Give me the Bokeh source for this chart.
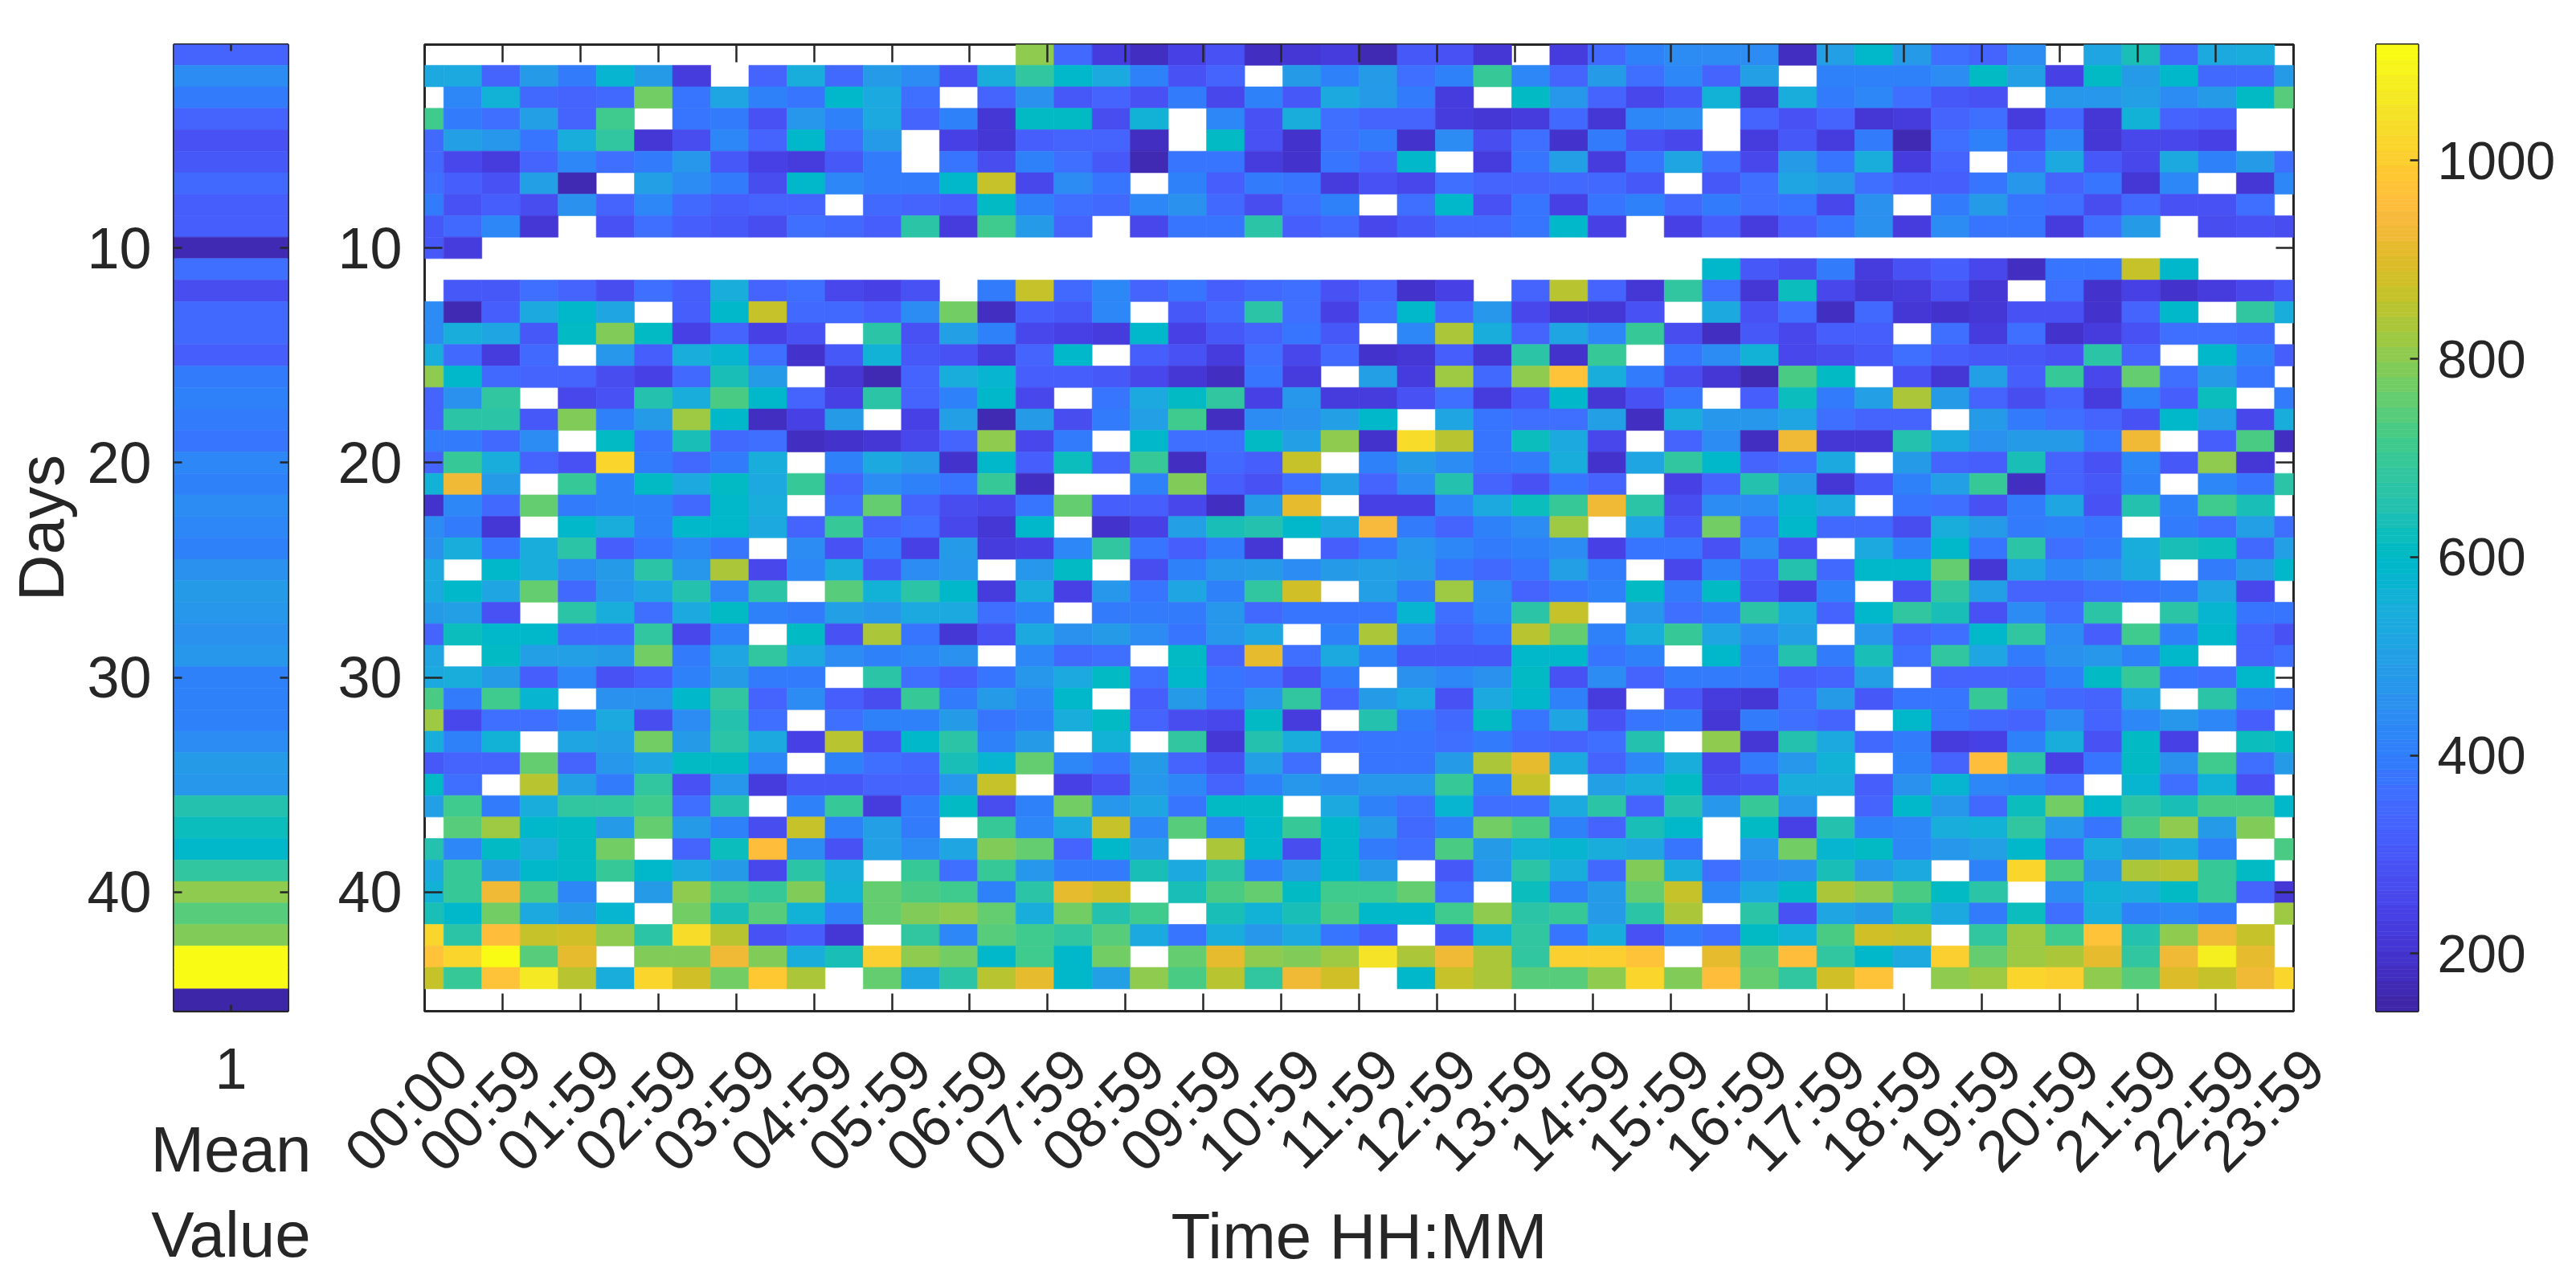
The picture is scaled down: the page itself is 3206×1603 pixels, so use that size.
from math import pi

import numpy as np
from bokeh.embed import file_html
from bokeh.layouts import column, row
from bokeh.models import (ColumnDataSource, CustomJSTickFormatter, FixedTicker,
                          LinearAxis, LinearColorMapper, Range1d)
from bokeh.plotting import figure
from bokeh.resources import INLINE

N = float("nan")

time_labels = ["00:00", "00:59", "01:59", "02:59", "03:59", "04:59", "05:59", "06:59", "07:59",
               "08:59", "09:59", "10:59", "11:59", "12:59", "13:59", "14:59", "15:59", "16:59",
               "17:59", "18:59", "19:59", "20:59", "21:59", "22:59", "23:59"]
day_ticks = [10, 20, 30, 40]
bar_ticks = [200, 400, 600, 800, 1000]
value_min = 142
value_max = 1117

mean_value = [330, 442, 397, 335, 285, 302, 350, 318, 312, 160, 358, 273, 350, 350, 318, 397, 406, 393,
              385, 422, 402, 436, 422, 410, 459, 478, 465, 459, 470, 402, 416, 406, 436, 490, 470, 650,
              622, 595, 688, 808, 742, 785, 1117, 1105, 150]

# one row per day, 50 samples over the day, N = no reading
day_values = [
    [N]*16 + [808, 346, 230, 175, 235, 292, 185, 205, 225, 160, 297, 280, 215, N, 225, 353, 410, 436, 436, 436, 175, 505, 585, 490, 358, 330, 436, N, 515, 635, 350, 532, 546, N],
    [525, 532, 330, 482, 389, 582, 482, 225, N, 338, 546, 350, 482, 442, 292, 546, 684, 585, 525, 416, 292, 338, N, 482, 416, 490, 356, 416, 698, 422, 335, 490, 358, 425, 335, 505, N, 416, 416, 416, 436, 605, 505, 240, 612, 490, 588, 346, 346, 490],
    [N, 428, 555, 353, 335, 342, 768, 374, 520, 406, 385, 598, 537, 356, N, 338, 459, 297, 325, 285, 397, 250, 416, 297, 537, 490, 397, 225, N, 605, 470, 335, 258, 297, 560, 210, 540, 397, 428, 358, 297, 285, N, 470, 465, 505, 442, 478, 605, 748],
    [714, 389, 362, 505, 330, 708, N, 382, 397, 292, 474, 406, 532, 335, 416, 210, 612, 605, 273, 560, N, 422, 292, 546, 356, 338, 338, 225, 205, 225, 353, 215, 422, 442, N, 335, 280, 325, 210, 225, 338, 362, 220, 346, 205, 555, 335, 318, N, N],
    [346, 505, 474, 378, 546, 680, 210, 273, 422, 330, 592, 362, 478, N, 240, 205, 318, 330, 330, 185, N, 605, 292, 190, 365, 397, 190, 436, 273, 362, 190, 389, 280, 250, N, 225, 297, 220, 397, 165, 362, 416, 292, 422, 205, 250, 250, 235, N, N],
    [346, 250, 220, 330, 428, 362, 397, 465, 297, 240, 225, 302, 393, N, 385, 273, 416, 368, 297, 165, 382, 382, 225, 195, 382, 325, 588, N, 225, 374, 505, 225, 374, 520, 358, 250, 490, 378, 540, 230, 330, N, 368, 537, 297, 250, 532, 416, 482, 365],
    [362, 318, 280, 505, 170, N, 505, 436, 389, 273, 595, 422, 397, 389, 595, 872, 250, 445, 382, N, 410, 312, 389, 385, 225, 292, 258, 358, 335, 330, 346, 346, 297, N, 297, 362, 510, 482, 356, 312, 318, 374, 470, 338, 382, 210, 422, N, 210, 428],
    [393, 280, 318, 273, 459, 325, 428, 346, 312, 335, 330, N, 346, 338, 312, 605, 406, 365, 350, 428, 459, 342, 273, 362, 410, N, 362, 595, 292, 378, 240, 374, 406, 350, 389, 362, 378, 258, 459, N, 397, 482, 374, 365, 273, 346, 280, 280, 356, N],
    [297, 353, 422, 215, N, 280, 356, 312, 302, 273, 365, 342, 318, 670, 230, 718, 478, 325, N, 250, 382, 378, 670, 318, 346, 250, 302, 346, 350, 382, 585, 235, N, 245, 312, 225, 318, 374, 459, 230, 436, 378, 385, 230, 368, 482, N, 273, 280, 273],
    [297, 230] + [N]*48,
    [N]*34 + [585, 297, 273, 389, 230, 292, 312, 250, 185, 382, 374, 872, 598, N, N, N],
    [N, 297, 297, 362, 335, 273, 368, 312, 546, 338, 358, 255, 235, 292, N, 389, 872, 346, 428, 338, 378, 312, 353, 358, 292, 335, 190, 235, N, 330, 855, 330, 205, 688, 356, 215, 622, 250, 205, 225, 285, 205, N, 368, 195, 240, 190, 225, 258, 302],
    [436, 170, 312, 537, 598, 515, N, 312, 598, 872, 350, 346, 312, 436, 775, 175, 318, 308, 422, N, 297, 342, 660, 356, 235, 365, 595, 350, 470, 250, 215, 215, 292, N, 532, 280, 356, 185, 353, 210, 195, 205, 285, 285, 190, 330, 595, N, 688, 543],
    [436, 550, 520, 302, 605, 788, 612, 235, 330, 235, 292, N, 660, 292, 505, 410, 250, 240, 230, 592, 240, 297, 330, 385, 297, N, 422, 837, 546, 335, 510, 422, 698, 273, 175, 302, 250, 312, 312, N, 368, 230, 356, 195, 230, 292, 356, 356, 342, N],
    [546, 350, 230, 342, N, 465, 312, 550, 578, 358, 200, 297, 565, 302, 292, 225, 330, 590, N, 312, 285, 225, 368, 250, 350, 200, 205, 318, 210, 675, 200, 698, N, 376, 436, 565, 250, 273, 302, 358, 312, 297, 297, 292, 660, 325, N, 595, 410, 312],
    [802, 592, 350, 338, 335, 273, 240, 342, 630, 478, N, 215, 165, 338, 546, 578, 318, 312, 302, 258, 210, 185, 374, 225, N, 505, 230, 826, 342, 808, 970, 546, 393, 275, 215, 165, 722, 605, N, 285, 205, 505, 312, 692, 250, 752, 356, 478, 378, N],
    [330, 459, 684, N, 250, 292, 650, 550, 722, 588, 335, 240, 665, 338, 416, 590, 250, N, 374, 532, 605, 680, 235, 465, 225, 225, 292, 358, 230, 297, 595, 215, 280, 376, N, 312, 618, 393, 505, 832, 482, 335, 273, 335, 220, 402, 312, 622, N, 397],
    [338, 660, 670, 297, 795, 406, 482, 823, 590, 180, 240, 490, N, 235, 505, 165, 490, 270, 397, 505, 714, 180, 436, 459, 505, 598, N, 520, 374, 365, 362, 505, 175, 545, 465, 465, 510, 356, 330, 338, N, 478, 393, 368, 335, 292, 595, 498, 250, 543],
    [393, 393, 342, 442, N, 605, 374, 640, 342, 368, 185, 190, 205, 250, 338, 812, 258, 393, N, 595, 368, 368, 612, 505, 798, 190, 1033, 850, 378, 618, 532, 250, N, 340, 436, 185, 926, 205, 205, 650, 532, 459, 482, 482, 374, 926, N, 312, 735, 185],
    [338, 698, 546, 335, 292, 1015, 397, 350, 389, 543, N, 410, 537, 478, 190, 598, 312, 618, 325, 698, 185, 342, 318, 872, N, 402, 478, 436, 385, 389, 543, 190, 510, 680, 590, 330, 368, 528, N, 482, 335, 318, 630, 338, 292, 422, 302, 798, 205, N],
    [565, 932, 482, N, 703, 410, 605, 532, 605, 525, 698, 338, 436, 402, 378, 692, 180, N, N, 416, 795, 312, 280, 365, 505, 338, 442, 650, 335, 292, 385, 335, N, 235, 335, 650, 490, 210, 297, 406, 505, 703, 180, 325, 297, 406, N, 428, 382, 665],
    [195, 428, 346, 762, 389, 406, 410, 350, 590, 546, N, 358, 762, 335, 273, 250, 382, 762, 312, 312, 258, 185, 482, 904, N, 240, 240, 422, 532, 622, 703, 920, 665, 270, 436, 436, 582, 537, N, 378, 356, 292, 397, 515, 280, 650, 402, 708, 630, N],
    [436, 393, 215, N, 595, 543, 406, 592, 595, 537, 335, 692, 338, 356, 250, 215, 595, N, 200, 240, 498, 640, 650, 590, 537, 945, 393, 330, 410, 436, 815, N, 520, 300, 780, 358, 585, 350, 350, 273, 543, 490, 397, 406, 374, N, 393, 362, 505, 358],
    [459, 543, 378, 546, 665, 312, 371, 428, 382, N, 442, 292, 389, 235, 478, 230, 240, 425, 684, 378, 312, 393, 210, N, 312, 371, 465, 422, 397, 406, 436, 235, 374, 385, 285, 436, 292, N, 537, 406, 588, 385, 665, 368, 393, 546, 640, 618, 342, 498],
    [537, N, 595, 546, 436, 490, 665, 474, 828, 250, 422, 543, 302, 436, 465, N, 465, 610, N, 273, 410, 470, 490, 436, 490, 498, 478, 385, 350, 378, 505, 397, N, 255, 402, 312, 655, 342, 588, 595, 752, 215, 515, 422, 459, 537, N, 397, 482, 588],
    [537, 595, 515, 752, 353, 470, 515, 650, 428, 670, N, 748, 560, 675, 595, 225, 540, 245, 465, 385, 520, 416, 684, 888, N, 498, 397, 820, 445, 338, 382, 410, 612, 387, 608, 297, 240, 410, N, 285, 688, 505, 338, 335, 356, 374, 393, 510, 250, N],
    [490, 505, 285, N, 665, 543, 368, 537, 605, 410, 397, 498, 465, 537, 525, 358, 416, N, 397, 389, 397, 470, 342, 378, 385, 378, 578, 358, 422, 660, 872, N, 474, 356, 393, 675, 532, 330, 592, 680, 635, 280, 436, 356, 665, N, 660, 582, 385, 382],
    [335, 622, 595, 598, 346, 350, 684, 258, 410, N, 612, 292, 828, 378, 210, 280, 528, 455, 490, 442, 374, 470, 510, N, 416, 842, 422, 338, 374, 846, 762, 402, 546, 703, 520, 436, 498, N, 470, 335, 358, 590, 688, 442, 312, 708, 410, 595, 338, 285],
    [515, N, 608, 498, 505, 482, 768, 393, 515, 688, 525, 436, 406, 428, 459, N, 422, 345, 368, N, 605, 338, 904, 368, 528, 410, 302, 302, 302, 590, 598, 374, 406, N, 588, 397, 650, 389, 630, 368, 680, 515, 397, 459, 470, 402, 592, N, 338, 365],
    [532, 550, 490, 312, 428, 292, 312, 410, 490, 397, 389, N, 665, 358, 312, 378, 465, 535, 605, 356, 588, 382, 368, 292, 389, N, 459, 428, 459, 612, 292, 442, 335, 390, 397, 397, 312, 338, 505, N, 330, 330, 330, 410, 608, 703, 371, 358, 590, N],
    [735, 393, 708, 582, N, 459, 459, 588, 684, 335, 436, 312, 273, 703, 397, 478, 428, 585, N, 312, 490, 378, 465, 684, 330, 482, 537, 292, 537, 590, 402, 230, N, 300, 220, 205, 358, 482, 302, 374, 371, 698, 397, 342, 338, 520, N, 660, 389, 378],
    [820, 258, 358, 368, 410, 525, 273, 436, 655, 362, N, 356, 410, 406, 478, 374, 410, 540, 605, 330, 273, 258, 608, 230, N, 655, 397, 350, 612, 374, 515, 285, 374, 397, 205, 393, 358, 338, N, 595, 371, 350, 330, 436, 335, 422, 470, 428, 312, N],
    [543, 416, 560, N, 520, 498, 775, 482, 670, 525, 240, 855, 285, 595, 665, 402, 490, N, 565, N, 688, 210, 655, 540, 356, 378, 378, 358, 389, 346, 325, 362, 650, N, 808, 205, 650, 532, 342, 389, 230, 240, 410, 546, 292, 605, 240, N, 622, 608],
    [302, 338, 338, 762, 338, 470, 510, 605, 608, 422, N, 402, 358, 350, 630, 582, 757, 422, 378, 478, 335, 292, 505, 368, N, 385, 382, 478, 837, 904, 532, 335, 422, 540, 258, 393, 474, 560, N, 410, 338, 950, 660, 240, 382, 605, 459, 708, 365, 490],
    [605, 356, N, 850, 505, 393, 684, 292, 470, 230, 302, 297, 338, 325, 474, 862, N, 235, 285, 465, 428, 330, 410, 470, 436, 465, 470, 703, 402, 865, N, 505, 543, 605, 273, 285, 543, 546, 312, 459, 582, 428, 402, 358, N, 570, 356, 565, 292, N],
    [498, 708, 397, 546, 688, 688, 714, 356, 655, N, 416, 692, 225, 397, 608, 273, 402, 775, 470, 520, 374, 608, 612, N, 528, 406, 362, 582, 368, 362, 525, 675, 338, 652, 470, 698, 465, N, 335, 595, 474, 353, 618, 780, 595, 660, 635, 735, 728, 588],
    [N, 748, 820, 588, 605, 482, 757, 490, 416, 273, 872, 410, 505, 389, N, 703, 428, 530, 868, 422, 742, 410, 585, 692, 595, 478, 346, 416, 775, 722, 410, 338, 630, 592, N, 605, 240, 655, 416, 428, 546, 555, 680, 465, 374, 735, 808, 482, 795, N],
    [655, 422, 605, 543, 605, 775, N, 335, 618, 955, 436, 280, 498, 436, 510, 792, 757, 338, 588, 505, N, 832, 595, 273, 588, 397, 358, 722, 490, 560, 582, 543, 515, 385, N, 470, 768, 570, 605, 428, 465, 505, 595, 365, 543, 490, 532, 410, N, 735],
    [528, 703, 478, 590, 605, 692, 592, 528, 490, 258, 665, 540, N, 703, 356, 692, 465, 390, 397, 630, 537, 675, 402, 478, 598, 478, N, 302, 470, 660, 543, 350, 785, 548, 358, 436, 459, 635, 474, 528, N, 406, 1015, 728, 465, 828, 850, 703, 608, N],
    [565, 698, 932, 735, 428, N, 490, 802, 728, 703, 788, 565, 757, 722, 718, 402, 660, 904, 876, N, 635, 728, 762, 605, 714, 714, 757, 358, N, 618, 406, 478, 752, 868, 428, 532, 605, 842, 798, 735, 608, 670, N, 436, 560, 543, 612, 703, 335, 215],
    [630, 595, 775, 528, 490, 582, N, 775, 630, 742, 555, 402, 757, 792, 798, 757, 546, 770, 655, 708, N, 630, 565, 630, 728, 592, 592, 708, 808, 660, 692, 478, 670, 837, N, 660, 292, 515, 478, 630, 532, 397, 618, 358, 540, 410, 428, 397, N, 820],
    [1025, 665, 950, 868, 888, 798, 675, 1033, 858, 280, 312, 210, N, 684, 422, 748, 718, 680, 742, 532, 385, 546, 470, 528, 378, 318, N, 302, 560, 688, 371, 540, 292, 400, 358, 605, 555, 735, 880, 872, N, 684, 820, 708, 970, 650, 802, 932, 872, N],
    [970, 1015, 1117, 742, 910, N, 788, 795, 920, 788, 543, 635, 1005, 808, 775, 595, 714, 588, 775, N, 762, 915, 812, 795, 823, 1045, 837, 932, 828, 684, 1000, 1000, 970, N, 915, 742, 950, 684, 595, 528, 1000, 757, 820, 837, 915, 684, 932, 1075, 904, N],
    [868, 698, 970, 1060, 858, 543, 1015, 880, 768, 982, 828, N, 762, 515, 675, 855, 910, 595, 505, 798, 735, 858, 688, 932, 880, N, 592, 868, 837, 748, 748, 802, 1020, 795, 955, 762, 684, 876, 965, N, 798, 815, 1020, 1005, 802, 748, 892, 865, 932, 1025],
    [N]*50,
]

# parula, 64 steps
parula = [(0.2422, 0.1504, 0.6603), (0.2504, 0.1650, 0.7076), (0.2578, 0.1818, 0.7511), (0.2647, 0.1978, 0.7952),
          (0.2706, 0.2147, 0.8364), (0.2751, 0.2342, 0.8710), (0.2783, 0.2559, 0.8991), (0.2803, 0.2782, 0.9221),
          (0.2813, 0.3006, 0.9414), (0.2810, 0.3228, 0.9579), (0.2795, 0.3447, 0.9717), (0.2760, 0.3667, 0.9829),
          (0.2699, 0.3892, 0.9906), (0.2602, 0.4123, 0.9952), (0.2440, 0.4358, 0.9988), (0.2206, 0.4603, 0.9973),
          (0.1963, 0.4847, 0.9892), (0.1834, 0.5074, 0.9798), (0.1786, 0.5289, 0.9682), (0.1764, 0.5499, 0.9520),
          (0.1687, 0.5703, 0.9359), (0.1540, 0.5902, 0.9218), (0.1460, 0.6091, 0.9079), (0.1380, 0.6276, 0.8973),
          (0.1248, 0.6459, 0.8883), (0.1113, 0.6635, 0.8763), (0.0952, 0.6798, 0.8598), (0.0689, 0.6948, 0.8394),
          (0.0297, 0.7082, 0.8163), (0.0036, 0.7203, 0.7917), (0.0067, 0.7312, 0.7660), (0.0433, 0.7411, 0.7394),
          (0.0964, 0.7500, 0.7120), (0.1408, 0.7584, 0.6842), (0.1717, 0.7670, 0.6554), (0.1938, 0.7758, 0.6251),
          (0.2161, 0.7843, 0.5923), (0.2470, 0.7918, 0.5567), (0.2906, 0.7973, 0.5188), (0.3406, 0.8008, 0.4789),
          (0.3909, 0.8029, 0.4354), (0.4456, 0.8024, 0.3909), (0.5044, 0.7993, 0.3480), (0.5616, 0.7942, 0.3045),
          (0.6174, 0.7876, 0.2612), (0.6720, 0.7793, 0.2227), (0.7242, 0.7698, 0.1910), (0.7738, 0.7598, 0.1646),
          (0.8203, 0.7498, 0.1535), (0.8634, 0.7406, 0.1596), (0.9035, 0.7330, 0.1774), (0.9393, 0.7288, 0.2100),
          (0.9728, 0.7298, 0.2394), (0.9956, 0.7434, 0.2371), (0.9970, 0.7659, 0.2199), (0.9952, 0.7861, 0.1999),
          (0.9892, 0.8135, 0.1884), (0.9786, 0.8405, 0.1766), (0.9676, 0.8660, 0.1643), (0.9610, 0.8901, 0.1537),
          (0.9597, 0.9135, 0.1423), (0.9628, 0.9373, 0.1265), (0.9691, 0.9606, 0.1064), (0.9769, 0.9839, 0.0805)]
palette = ["#%02x%02x%02x" % tuple(int(round(c * 255)) for c in rgb) for rgb in parula]
mapper = LinearColorMapper(palette=palette, low=value_min, high=value_max)

INK = "#262626"
FONT = "Liberation Sans"
TICK_PX = "72px"
LABEL_PX = "80px"


def blank():
    return CustomJSTickFormatter(code="return ''")


def style_axis(axis, tick_in):
    axis.axis_line_color = None
    axis.major_tick_in = tick_in
    axis.major_tick_out = 0
    axis.major_tick_line_color = INK
    axis.major_tick_line_width = 2.5
    axis.minor_tick_line_color = None
    axis.major_label_text_font = FONT
    axis.major_label_text_font_size = TICK_PX
    axis.major_label_text_color = INK
    axis.axis_label_text_font = FONT
    axis.axis_label_text_font_size = LABEL_PX
    axis.axis_label_text_font_style = "normal"
    axis.axis_label_text_color = INK


def panel(width, height, left, right, top, bottom, x_range, y_range):
    p = figure(frame_width=width, frame_height=height, min_border_left=left, min_border_right=right,
               min_border_top=top, min_border_bottom=bottom, x_range=x_range, y_range=y_range,
               x_axis_type=None, y_axis_type=None, output_backend="svg", toolbar_location=None,
               background_fill_color="white", border_fill_color="white")
    p.outline_line_color = INK
    p.outline_line_width = 3
    return p


def cells(p, xs, ys, values):
    src = ColumnDataSource(data=dict(x=xs, y=ys, v=values))
    p.rect(x="x", y="y", width=1, height=1, source=src,
           fill_color={"field": "v", "transform": mapper},
           line_color={"field": "v", "transform": mapper}, line_width=0.6)


y_span = (45.54, 0.535)
TOP = 55
BOTTOM = 330

# mean value strip
strip = panel(142, 1203, 216, 55, TOP, BOTTOM, Range1d(0.5, 1.5), Range1d(*y_span))
cells(strip, [1] * len(mean_value), list(range(1, len(mean_value) + 1)), mean_value)

ax = LinearAxis(ticker=FixedTicker(ticks=day_ticks), axis_label="Days")
style_axis(ax, 10)
ax.major_label_standoff = 28
ax.axis_label_standoff = 9
strip.add_layout(ax, "left")
ax = LinearAxis(ticker=FixedTicker(ticks=day_ticks), formatter=blank())
style_axis(ax, 10)
strip.add_layout(ax, "right")
ax = LinearAxis(ticker=FixedTicker(ticks=[1]), axis_label="Mean\nValue")
style_axis(ax, 8)
ax.major_label_standoff = 46
ax.axis_label_standoff = 28
strip.add_layout(ax, "below")
ax = LinearAxis(ticker=FixedTicker(ticks=[1]), formatter=blank())
style_axis(ax, 8)
strip.add_layout(ax, "above")

# day by time heatmap
xs, ys, vs = [], [], []
for d, vals in enumerate(day_values):
    for c, v in enumerate(vals):
        if v == v:
            xs.append(c + 1)
            ys.append(d + 1)
            vs.append(v)

heat = panel(2326, 1203, 115, 54, TOP, 6, Range1d(1, 50), Range1d(*y_span))
cells(heat, xs, ys, vs)

ax = LinearAxis(ticker=FixedTicker(ticks=day_ticks))
style_axis(ax, 22)
ax.major_label_standoff = 28
heat.add_layout(ax, "left")
ax = LinearAxis(ticker=FixedTicker(ticks=day_ticks), formatter=blank())
style_axis(ax, 22)
heat.add_layout(ax, "right")

time_ticks = list(np.linspace(1, 50, len(time_labels)))
ax = LinearAxis(ticker=FixedTicker(ticks=time_ticks), formatter=blank())
style_axis(ax, 22)
heat.add_layout(ax, "below")
ax = LinearAxis(ticker=FixedTicker(ticks=time_ticks), formatter=blank())
style_axis(ax, 22)
heat.add_layout(ax, "above")

# the rotated labels sit right of their ticks, past the end of the heatmap's frame,
# so they get a thin figure of their own that is a bit wider than the heatmap
tick_px = 2326 / (len(time_labels) - 1)
label_start = -36 / tick_px
labels = panel(2380, 1, 115, 0, 0, 205, Range1d(label_start, label_start + 2380 / tick_px), Range1d(0, 1))
labels.outline_line_color = None
ax = LinearAxis(ticker=FixedTicker(ticks=list(range(len(time_labels)))),
                major_label_overrides={i: s for i, s in enumerate(time_labels)})
style_axis(ax, 0)
ax.major_tick_line_color = None
ax.major_label_orientation = pi / 4
ax.major_label_standoff = 52
labels.add_layout(ax, "below")

# axis title, centred under the heatmap
title = panel(2326, 1, 115, 54, 0, 80, Range1d(1, 50), Range1d(0, 1))
title.outline_line_color = None
ax = LinearAxis(ticker=FixedTicker(ticks=[]), axis_label="Time HH:MM")
style_axis(ax, 0)
ax.major_tick_line_color = None
ax.axis_label_standoff = -12
title.add_layout(ax, "below")

# colour bar
bar = panel(52, 1203, 49, 190, TOP, BOTTOM, Range1d(0, 1), Range1d(value_min, value_max))
levels = np.linspace(value_min, value_max, 257)
bar_src = ColumnDataSource(data=dict(bottom=levels[:-1], top=levels[1:], v=(levels[:-1] + levels[1:]) / 2))
bar.quad(left=0, right=1, bottom="bottom", top="top", source=bar_src,
         fill_color={"field": "v", "transform": mapper}, line_color={"field": "v", "transform": mapper},
         line_width=0.6)
ax = LinearAxis(ticker=FixedTicker(ticks=bar_ticks))
style_axis(ax, 10)
ax.major_label_text_font_size = "66px"
ax.major_label_standoff = 24
bar.add_layout(ax, "right")

page = row(strip, column(heat, labels, title, spacing=0), bar, spacing=0)
open("out.html", "w").write(file_html(page, INLINE))
